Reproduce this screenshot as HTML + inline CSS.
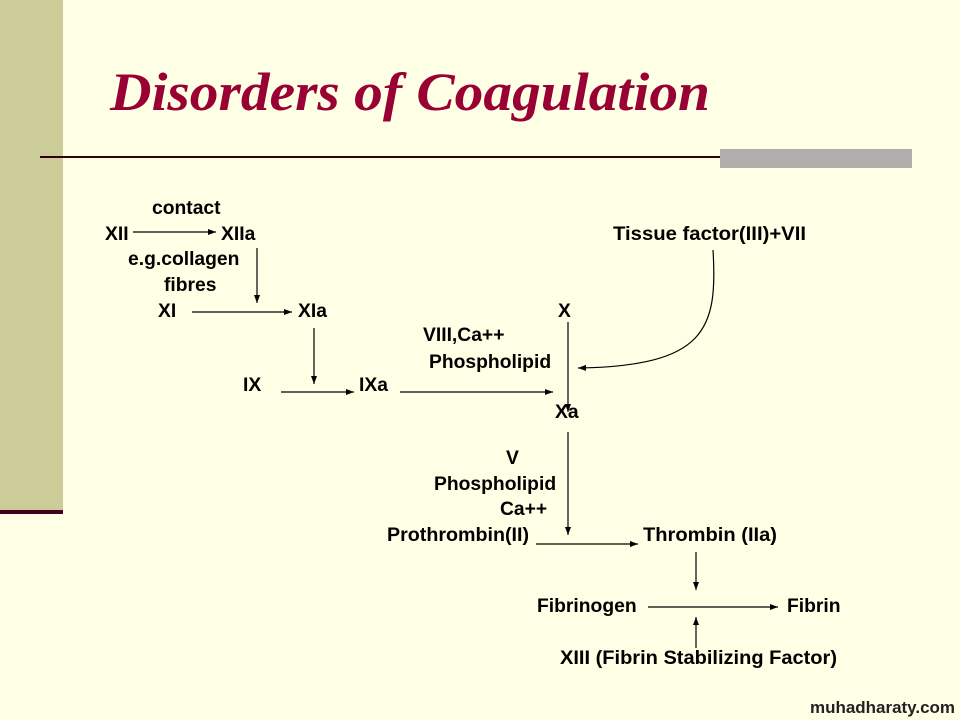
<!DOCTYPE html>
<html><head><meta charset="utf-8"><style>
html,body{margin:0;padding:0;background:#FFFFE5;}
svg{display:block}
text{font-family:"Liberation Sans",Arial,sans-serif;font-weight:bold;font-size:19.3px;fill:#000;}
</style></head><body>
<svg width="960" height="720" viewBox="0 0 960 720" xmlns="http://www.w3.org/2000/svg">
<defs><marker id="a" markerWidth="8" markerHeight="6" refX="8" refY="3" orient="auto" markerUnits="userSpaceOnUse"><path d="M0,0 L8,3 L0,6 z" fill="#000"/></marker></defs>
<rect x="0" y="0" width="960" height="720" fill="#FFFFE5"/>
<rect x="0" y="0" width="63" height="512" fill="#CCCC99"/>
<rect x="0" y="510" width="63" height="4" fill="#400020"/>
<text x="110" y="110" style="font-family:'Liberation Serif',serif;font-style:italic;font-weight:bold;font-size:54px;fill:#990033" textLength="600" lengthAdjust="spacingAndGlyphs">Disorders of Coagulation</text>
<rect x="40" y="156" width="680" height="2" fill="#300010"/>
<rect x="720" y="149" width="192" height="19" fill="#B2ADAD"/>
<g stroke="#000" stroke-width="1.2" fill="none">
<line x1="133" y1="232" x2="216" y2="232" marker-end="url(#a)"/>
<line x1="257" y1="248" x2="257" y2="303" marker-end="url(#a)"/>
<line x1="192" y1="312" x2="292" y2="312" marker-end="url(#a)"/>
<line x1="314" y1="328" x2="314" y2="384" marker-end="url(#a)"/>
<line x1="281" y1="392" x2="354" y2="392" marker-end="url(#a)"/>
<line x1="400" y1="392" x2="553" y2="392" marker-end="url(#a)"/>
<line x1="568" y1="322" x2="568" y2="412" marker-end="url(#a)"/>
<path d="M713,250 C718,330 705,366 578,368" marker-end="url(#a)"/>
<line x1="568" y1="432" x2="568" y2="535" marker-end="url(#a)"/>
<line x1="536" y1="544" x2="638" y2="544" marker-end="url(#a)"/>
<line x1="696" y1="552" x2="696" y2="590" marker-end="url(#a)"/>
<line x1="648" y1="607" x2="778" y2="607" marker-end="url(#a)"/>
<line x1="696" y1="648" x2="696" y2="617" marker-end="url(#a)"/>
</g>
<text x="152" y="214">contact</text>
<text x="105" y="240">XII</text>
<text x="221" y="240">XIIa</text>
<text x="128" y="265">e.g.collagen</text>
<text x="164" y="291">fibres</text>
<text x="158" y="317">XI</text>
<text x="298" y="317">XIa</text>
<text x="558" y="317">X</text>
<text x="613" y="240" textLength="193" lengthAdjust="spacingAndGlyphs">Tissue factor(III)+VII</text>
<text x="423" y="341">VIII,Ca++</text>
<text x="429" y="368">Phospholipid</text>
<text x="243" y="391">IX</text>
<text x="359" y="391">IXa</text>
<text x="555" y="418">Xa</text>
<text x="506" y="464">V</text>
<text x="434" y="490">Phospholipid</text>
<text x="500" y="515">Ca++</text>
<text x="387" y="541" textLength="142" lengthAdjust="spacingAndGlyphs">Prothrombin(II)</text>
<text x="643" y="541" textLength="134" lengthAdjust="spacingAndGlyphs">Thrombin (IIa)</text>
<text x="537" y="612">Fibrinogen</text>
<text x="787" y="612">Fibrin</text>
<text x="560" y="664" textLength="277" lengthAdjust="spacingAndGlyphs">XIII (Fibrin Stabilizing Factor)</text>
<text x="810" y="713" style="font-size:17px;fill:#222" textLength="145" lengthAdjust="spacingAndGlyphs">muhadharaty.com</text>
</svg>
</body></html>
